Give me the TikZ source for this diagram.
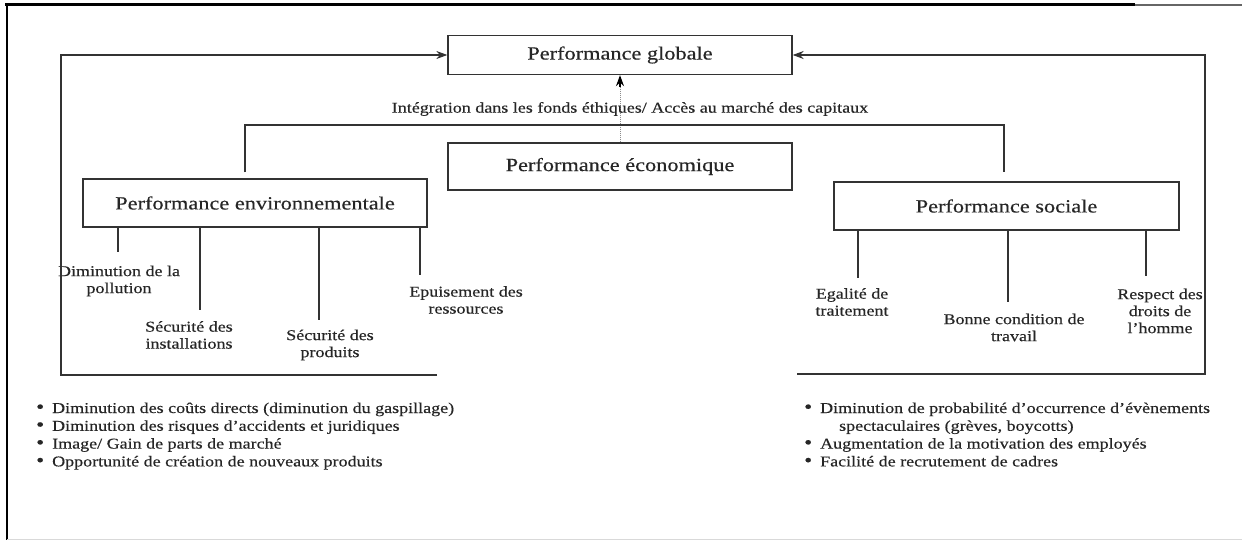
\documentclass[tikz,border=0pt]{standalone}
\usepackage{fontspec}
\setmainfont{Liberation Serif}[FakeStretch=1.2, FakeBold=0.4]
\usetikzlibrary{arrows.meta}
\newcommand{\itemdot}{{\fontsize{19}{17}\selectfont •}}
\begin{document}
\begin{tikzpicture}[x=1pt,y=-1pt,
  box/.style={draw=black!80, line width=1.3pt, rectangle, inner sep=0pt,
    text=black!85, font=\fontsize{18.6}{22}\selectfont},
  lbl/.style={align=center, inner sep=0pt, text=black!85,
    font=\fontsize{15}{17}\selectfont},
  link/.style={draw=black!80, line width=1.3pt},
  tip/.style={-{Stealth[length=11pt,width=8pt]}},
  benefits/.style={anchor=base west, inner sep=0pt, text=black!85,
    font=\fontsize{15}{17.8}\selectfont},
]
\useasboundingbox (0,0) rectangle (1242,540);

% page frame
\draw[line width=3pt] (5,5) -- (1135,5);
\draw[black!60, line width=1.2pt] (1135,5) -- (1242,5);
\draw[line width=1.6pt] (7,4) -- (7,540);
\draw[black!15, line width=1pt] (7,539) -- (1242,539);

% main boxes
\node[box, minimum width=344pt, minimum height=39pt] (glob) at (620,55) {Performance globale};
\node[box, minimum width=344pt, minimum height=47pt] (eco) at (620,166.5) {Performance économique};
\node[box, minimum width=344pt, minimum height=48pt] (env) at (255,203) {Performance environnementale};
\node[box, minimum width=345pt, minimum height=48pt] (soc) at (1006.5,206) {Performance sociale};

% economic performance feeds the global one (dotted shaft, solid head)
\draw[black!45, line width=1pt, densely dotted] (eco.north) -- ([yshift=-9pt]glob.south);
\draw[link, draw=black, tip] ([yshift=-12pt]glob.south) -- (glob.south);
\node[lbl] (integ) at (630,109) {Intégration dans les fonds éthiques/ Accès au marché des capitaux};

% bracket joining environmental and social performance
\coordinate (bl) at (245,125);
\coordinate (br) at (1004,125);
\draw[link] ([yshift=6pt]env.north -| bl) -- (bl) -- (br) -- ([yshift=9pt]soc.north -| br);

% environmental items
\node[lbl] (pol)  at (119,281) {Diminution de la\\pollution};
\node[lbl] (inst) at (189,335) {Sécurité des\\installations};
\node[lbl] (prod) at (330,345) {Sécurité des\\produits};
\node[lbl] (epu)  at (466,300) {Epuisement des\\ressources};
\coordinate (e1) at (118,252);
\coordinate (e2) at (200,310);
\coordinate (e3) at (319,320);
\coordinate (e4) at (420,275);
\foreach \c in {e1,e2,e3,e4} \draw[link] (\c |- env.south) -- (\c);

% social items
\node[lbl] (ega)  at (852,302) {Egalité de\\traitement};
\node[lbl] (bon)  at (1014,327.5) {Bonne condition de\\travail};
\node[lbl] (resp) at (1160,311) {Respect des\\droits de\\l'homme};
\coordinate (s1) at (858,278);
\coordinate (s2) at (1008,302);
\coordinate (s3) at (1146,276);
\foreach \c in {s1,s2,s3} \draw[link] (\c |- soc.south) -- (\c);

% feedback loops into global performance
\coordinate (lend) at (437,375);
\coordinate (lcor) at (61,375);
\draw[link, tip] (lend) -- (lcor) |- (glob.west);
\coordinate (rend) at (797,374);
\coordinate (rcor) at (1205,374);
\draw[link, tip] (rend) -- (rcor) |- (glob.east);

% benefits
\node[benefits] (envben) at (36,413)
{\begin{tabular}[t]{@{}l@{\hspace{8pt}}l@{}}
\itemdot & Diminution des coûts directs (diminution du gaspillage)\\
\itemdot & Diminution des risques d'accidents et juridiques\\
\itemdot & Image/ Gain de parts de marché\\
\itemdot & Opportunité de création de nouveaux produits
\end{tabular}};
\node[benefits] (socben) at (804,413)
{\begin{tabular}[t]{@{}l@{\hspace{8pt}}l@{}}
\itemdot & Diminution de probabilité d'occurrence d'évènements\\
  & \hspace{19pt}spectaculaires (grèves, boycotts)\\
\itemdot & Augmentation de la motivation des employés\\
\itemdot & Facilité de recrutement de cadres
\end{tabular}};
\end{tikzpicture}
\end{document}
